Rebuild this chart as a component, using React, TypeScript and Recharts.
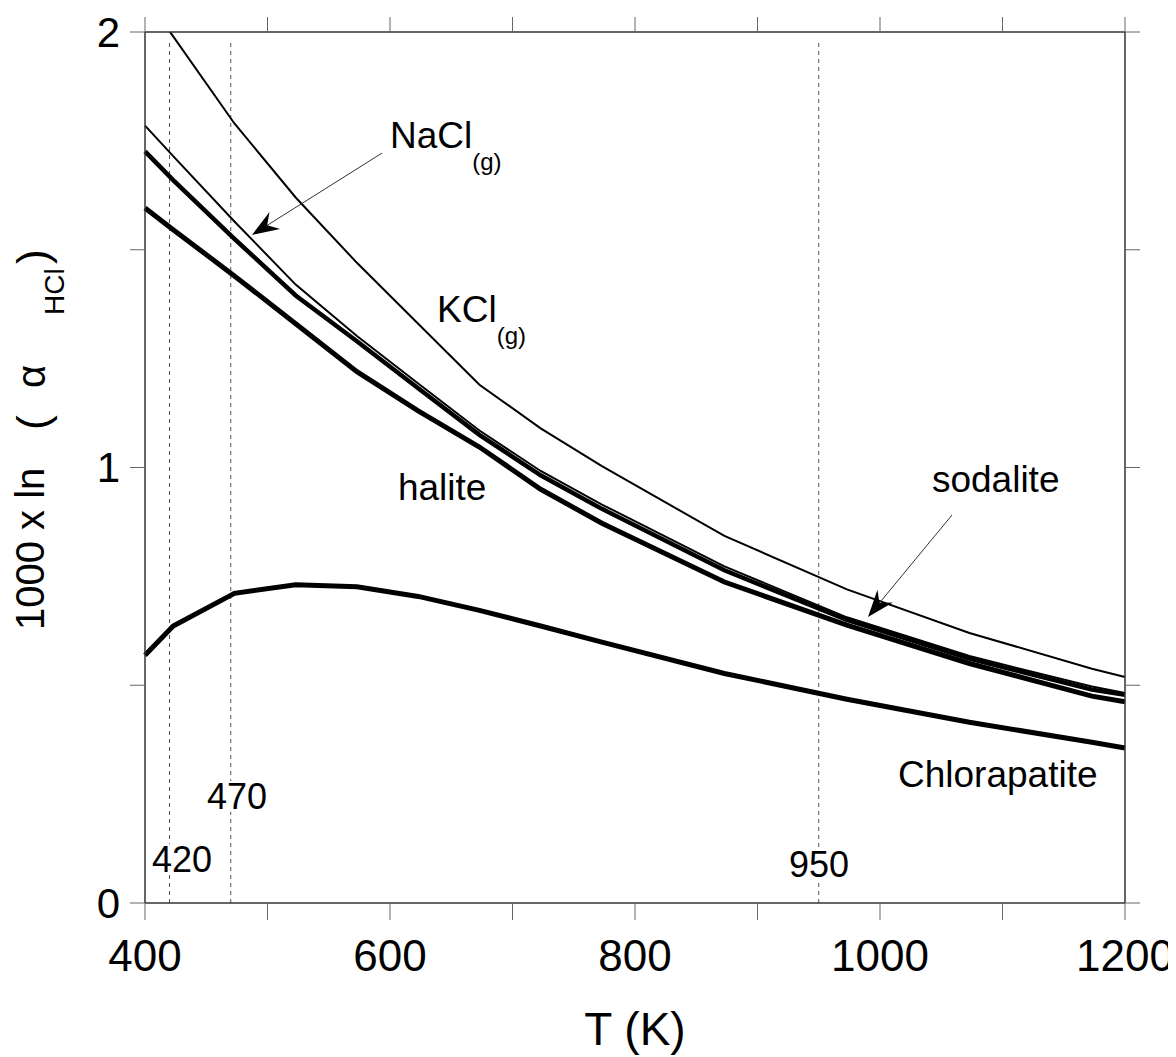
import { LineChart, Line, XAxis, YAxis, ReferenceLine, ReferenceDot } from "recharts";

const FONT = "'Liberation Sans', Arial, Helvetica, sans-serif";

// temperatures (K) where the curves were read
const temps = [400, 423, 473, 523, 573, 623, 673, 723, 773, 873, 973, 1073, 1173, 1200];

// 1000 x ln(alpha HCl) for each phase
const kclGas = [2.08, 1.99, 1.79, 1.62, 1.47, 1.33, 1.19, 1.09, 1.003, 0.843, 0.72, 0.62, 0.538, 0.519];
const naclGas = [1.785, 1.715, 1.565, 1.42, 1.302, 1.193, 1.085, 0.992, 0.915, 0.773, 0.656, 0.567, 0.497, 0.482];
const sodalite = [1.726, 1.66, 1.525, 1.395, 1.29, 1.182, 1.075, 0.982, 0.905, 0.764, 0.65, 0.561, 0.49, 0.478];
const halite = [1.596, 1.546, 1.44, 1.33, 1.22, 1.13, 1.047, 0.95, 0.872, 0.737, 0.638, 0.55, 0.475, 0.462];
const chlorapatite = [0.569, 0.636, 0.711, 0.731, 0.726, 0.704, 0.672, 0.636, 0.599, 0.527, 0.468, 0.415, 0.369, 0.356];

const xTicks = [400, 500, 600, 700, 800, 900, 1000, 1100, 1200];
const xLabelled = [400, 600, 800, 1000, 1200];
const yTicks = [0, 0.5, 1, 1.5, 2];
const yLabelled = [0, 1, 2];

// dashed temperature markers
const markers = [420, 470, 950];

const data = temps.map((T, i) => ({
  T,
  kcl: kclGas[i],
  nacl: naclGas[i],
  sodalite: sodalite[i],
  halite: halite[i],
  apatite: chlorapatite[i],
}));

const AX = { xAxisId: "b", yAxisId: "l" };

function textShape(text: string, size: number, anchor: "start" | "middle" | "end", sub?: string, bg?: boolean) {
  return (p: any) => {
    const w = text.length * 0.556 * size;
    const left = anchor === "start" ? p.cx : anchor === "middle" ? p.cx - w / 2 : p.cx - w;
    return (
      <g>
        {bg && <rect x={left - 3} y={p.cy - size * 0.78} width={w + 6} height={size * 0.86} fill="#fff" />}
        <text x={p.cx} y={p.cy} fontSize={size} textAnchor={anchor} fontFamily={FONT} fill="#000">
          {text}
          {sub && (
            <tspan dy={22} fontSize={24}>
              {sub}
            </tspan>
          )}
        </text>
      </g>
    );
  };
}

const Arrow = (p: any) => {
  const { x1, y1, x2, y2 } = p;
  const len = Math.hypot(x2 - x1, y2 - y1);
  const ux = (x2 - x1) / len;
  const uy = (y2 - y1) / len;
  const nx = -uy;
  const ny = ux;
  const L = 27;
  const W = 10;
  const pts = [
    [x2, y2],
    [x2 - ux * L + nx * W, y2 - uy * L + ny * W],
    [x2 - ux * (L - 9), y2 - uy * (L - 9)],
    [x2 - ux * L - nx * W, y2 - uy * L - ny * W],
  ]
    .map((q) => q.join(","))
    .join(" ");
  return (
    <g>
      <line x1={x1} y1={y1} x2={x2 - ux * 12} y2={y2 - uy * 12} stroke="#333" strokeWidth={1} />
      <polygon points={pts} fill="#000" />
    </g>
  );
};

// rotated pieces of the y axis title, placed along the axis
const yTitle = [
  { t: "1000 x ln", y: 622, size: 40, base: 36 },
  { t: "(", y: 422, size: 44, base: 40 },
  { t: "α", y: 380, size: 40, base: 37 },
  { t: "HCl", y: 307, size: 28, base: 56 },
  { t: ")", y: 256, size: 44, base: 40 },
];

const YLabel = () => (
  <g>
    {yTitle.map((s) => (
      <text
        key={s.t}
        transform={`translate(${s.base},${s.y}) rotate(-90)`}
        fontSize={s.size}
        fontFamily={FONT}
        fill="#000"
      >
        {s.t}
      </text>
    ))}
  </g>
);

const XLabel = () => (
  <text x={627} y={1037} fontSize={46} textAnchor="middle" fontFamily={FONT} fill="#000">
    T (K)
  </text>
);

const blank = () => "";

export default function App() {
  return (
    <LineChart
      width={1168}
      height={1049}
      data={data}
      margin={{ top: 0, right: 11, bottom: 0, left: 0 }}
      style={{ overflow: "visible" }}
    >
      <XAxis
        xAxisId="b"
        dataKey="T"
        type="number"
        domain={[400, 1200]}
        ticks={xTicks}
        tickFormatter={(v: number) => (xLabelled.includes(v) ? String(v) : "")}
        height={154}
        tickSize={17}
        tickMargin={20}
        axisLine={{ stroke: "#333", strokeWidth: 1.5 }}
        tickLine={{ stroke: "#666" }}
        tick={{ fontSize: 44, fill: "#000", fontFamily: FONT }}
        label={XLabel}
        interval={0}
      />
      <XAxis
        xAxisId="t"
        orientation="top"
        dataKey="T"
        type="number"
        domain={[400, 1200]}
        ticks={xTicks}
        tickFormatter={blank}
        height={24}
        tickSize={15}
        axisLine={{ stroke: "#333", strokeWidth: 1.5 }}
        tickLine={{ stroke: "#666" }}
        tick={{ fontSize: 10 }}
        interval={0}
      />
      <YAxis
        yAxisId="l"
        type="number"
        domain={[0, 2]}
        allowDataOverflow
        ticks={yTicks}
        tickFormatter={(v: number) => (yLabelled.includes(v) ? String(v) : "")}
        width={137}
        tickSize={15}
        tickMargin={10}
        axisLine={{ stroke: "#333", strokeWidth: 1.5 }}
        tickLine={{ stroke: "#666" }}
        tick={{ fontSize: 42, fill: "#000", fontFamily: FONT }}
        label={YLabel}
        interval={0}
      />
      <YAxis
        yAxisId="r"
        orientation="right"
        type="number"
        domain={[0, 2]}
        allowDataOverflow
        ticks={yTicks}
        tickFormatter={blank}
        width={40}
        tickSize={15}
        axisLine={{ stroke: "#333", strokeWidth: 1.5 }}
        tickLine={{ stroke: "#666" }}
        tick={{ fontSize: 10 }}
        interval={0}
      />

      {markers.map((m) => (
        <ReferenceLine
          key={m}
          {...AX}
          segment={[
            { x: m, y: 0 },
            { x: m, y: 1.98 },
          ]}
          stroke="#555"
          strokeWidth={1}
          strokeDasharray="4 4"
        />
      ))}

      {/* invisible copy so the top and right frame axes get their ticks */}
      <Line xAxisId="t" yAxisId="r" type="linear" dataKey="apatite" stroke="none" strokeWidth={0} dot={false} activeDot={false} isAnimationActive={false} legendType="none" />

      <Line {...AX} type="linear" dataKey="kcl" stroke="#000" strokeWidth={2} dot={false} activeDot={false} isAnimationActive={false} />
      <Line {...AX} type="linear" dataKey="nacl" stroke="#000" strokeWidth={2} dot={false} activeDot={false} isAnimationActive={false} />
      <Line {...AX} type="linear" dataKey="sodalite" stroke="#000" strokeWidth={4.5} dot={false} activeDot={false} isAnimationActive={false} />
      <Line {...AX} type="linear" dataKey="halite" stroke="#000" strokeWidth={5} dot={false} activeDot={false} isAnimationActive={false} />
      <Line {...AX} type="linear" dataKey="apatite" stroke="#000" strokeWidth={5} dot={false} activeDot={false} isAnimationActive={false} />

      <ReferenceLine {...AX} segment={[{ x: 593.5, y: 1.722 }, { x: 487.3, y: 1.534 }]} shape={Arrow} />
      <ReferenceLine {...AX} segment={[{ x: 1058.8, y: 0.891 }, { x: 990.2, y: 0.657 }]} shape={Arrow} />

      <ReferenceDot {...AX} x={600} y={1.7336} shape={textShape("NaCl", 37, "start", "(g)")} />
      <ReferenceDot {...AX} x={638.4} y={1.3341} shape={textShape("KCl", 37, "start", "(g)")} />
      <ReferenceDot {...AX} x={606.5} y={0.9254} shape={textShape("halite", 37, "start")} />
      <ReferenceDot {...AX} x={1042.4} y={0.9437} shape={textShape("sodalite", 37, "start")} />
      <ReferenceDot {...AX} x={1014.7} y={0.2664} shape={textShape("Chlorapatite", 37, "start")} />
      <ReferenceDot {...AX} x={405.7} y={0.0712} shape={textShape("420", 36, "start", undefined, true)} />
      <ReferenceDot {...AX} x={450.6} y={0.2159} shape={textShape("470", 36, "start", undefined, true)} />
      <ReferenceDot {...AX} x={950.2} y={0.0597} shape={textShape("950", 36, "middle", undefined, true)} />
    </LineChart>
  );
}
